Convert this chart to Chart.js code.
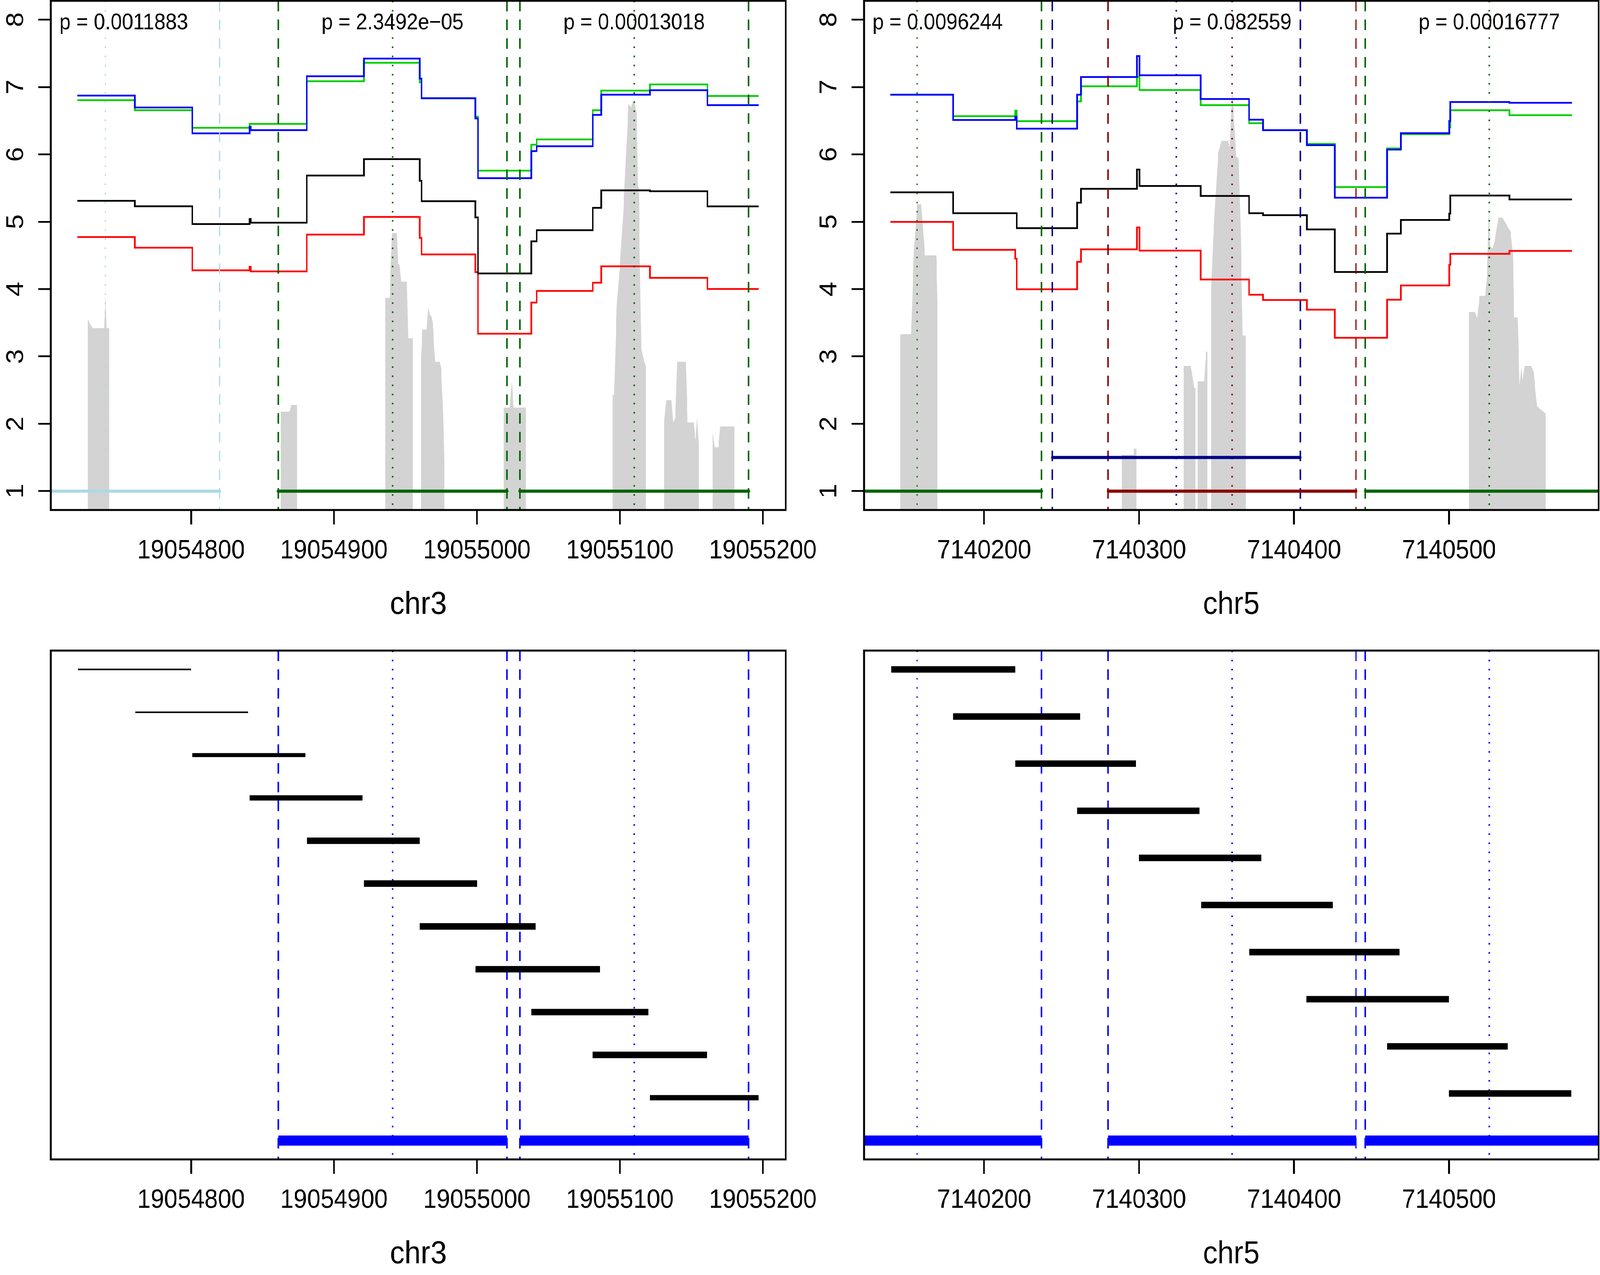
<!DOCTYPE html>
<html>
<head>
<meta charset="utf-8">
<title>chr3 / chr5 window scan</title>
<script src="https://cdn.jsdelivr.net/npm/chart.js@4.4.1/dist/chart.umd.min.js"></script>
<style>
  html, body { margin: 0; padding: 0; background: #fff; overflow: hidden; }
  #page { position: absolute; left: 0; top: 0; width: 4500px; height: 3265px; transform-origin: 0 0; }
  canvas { position: absolute; }
</style>
</head>
<body>
<div id="page">
<canvas id="chr3Top" width="2320" height="1600" style="left:0;top:0"></canvas>
<canvas id="chr5Top" width="2213" height="1600" style="left:2287px;top:0"></canvas>
<canvas id="chr3Bottom" width="2320" height="1665" style="left:0;top:1600px"></canvas>
<canvas id="chr5Bottom" width="2213" height="1665" style="left:2287px;top:1600px"></canvas>
</div>
<script>
// ---------- chr3 ----------
var chr3XTicks = [19054800, 19054900, 19055000, 19055100, 19055200];
var topYTicks = [1, 2, 3, 4, 5, 6, 7, 8];

// step positions and the four score tracks
var chr3Breaks = [19054720.6, 19054760.7, 19054800.9, 19054841, 19054841.7, 19054881, 19054921, 19054960, 19054961.3,
                  19054998.9, 19055000.7, 19055038, 19055041.8, 19055081, 19055087, 19055121, 19055161.2, 19055197.2];
var chr3Blue  = [6.873, 6.696, 6.312, 6.410, 6.359, 7.160, 7.422, 7.125, 6.834, 6.533, 5.646, 6.048, 6.121, 6.585, 6.886, 6.953, 6.730];
var chr3Green = [6.805, 6.655, 6.395, 6.452, 6.452, 7.085, 7.360, 7.070, 6.830, 6.560, 5.758, 6.144, 6.222, 6.655, 6.946, 7.038, 6.867];
var chr3Black = [5.310, 5.229, 4.965, 5.040, 4.986, 5.685, 5.929, 5.608, 5.305, 5.064, 4.232, 4.708, 4.874, 5.206, 5.465, 5.452, 5.227];
var chr3Red   = [4.773, 4.615, 4.278, 4.330, 4.262, 4.809, 5.071, 4.760, 4.514, 4.250, 3.337, 3.800, 3.973, 4.094, 4.338, 4.167, 4.001];

// grey coverage outline [position, height]
var chr3Coverage = [
  [19054727.7, 0], [19054727.7, 3.56], [19054731.0, 3.42], [19054739.2, 3.42], [19054740.1, 3.91], [19054741.0, 3.42], [19054742.9, 3.42], [19054742.9, 0],
  [19054862.8, 0], [19054862.8, 2.18], [19054868.8, 2.18], [19054870.1, 2.28], [19054874.2, 2.28], [19054874.2, 0],
  [19054935.8, 0], [19054935.8, 3.87], [19054938.9, 3.87], [19054940.6, 4.83], [19054944.0, 4.83], [19054944.8, 4.37], [19054945.8, 4.37],
  [19054947.0, 4.11], [19054951.0, 4.11], [19054952.0, 3.27], [19054955.1, 3.27], [19054955.1, 0],
  [19054960.8, 0], [19054960.8, 2.96], [19054961.9, 3.40], [19054964.8, 3.40], [19054965.9, 3.73], [19054967.0, 3.62], [19054968.1, 3.60],
  [19054969.0, 3.51], [19054970.8, 2.92], [19054974.0, 2.92], [19054975.0, 2.82], [19054976.4, 2.16], [19054977.2, 1.45], [19054977.2, 0],
  [19055018.7, 0], [19055018.7, 2.24], [19055022.9, 2.24], [19055024.4, 2.64], [19055025.7, 2.24], [19055034.3, 2.24], [19055034.3, 0],
  [19055095.0, 0], [19055095.0, 2.43], [19055095.9, 2.43], [19055097.8, 3.75], [19055100.2, 4.42], [19055102.3, 5.12], [19055106.0, 6.75],
  [19055107.8, 6.70], [19055109.6, 6.80], [19055111.8, 6.62], [19055112.6, 5.53], [19055113.3, 5.50], [19055114.1, 4.26], [19055115.1, 3.10],
  [19055116.5, 2.97], [19055118.2, 2.85], [19055118.2, 0],
  [19055131.0, 0], [19055131.0, 2.04], [19055132.4, 2.35], [19055136.1, 2.35], [19055137.4, 2.02], [19055138.8, 2.10], [19055140.1, 2.92],
  [19055146.1, 2.92], [19055147.4, 2.02], [19055151.6, 2.02], [19055152.9, 1.75], [19055154.0, 2.09], [19055155.2, 1.65], [19055155.2, 0],
  [19055164.9, 0], [19055164.9, 1.87], [19055166.2, 1.65], [19055168.9, 1.65], [19055170.2, 1.96], [19055180.1, 1.96], [19055180.1, 0]
];

var chr3RegionsLightblue = [[19054690, 19054820]];
var chr3RegionsDarkgreen = [[19054861, 19055021], [19055030, 19055190]];
var chr3PeaksLightblue = [19054740];
var chr3PeaksDarkgreen = [19054941, 19055110];
var chr3PText = ['p = 0.0011883', 'p = 2.3492e\u221205', 'p = 0.00013018'];
var chr3PAt = [19054740, 19054941, 19055110];

var chr3WinStart = [19054721, 19054761, 19054801, 19054841, 19054881, 19054921, 19054960, 19054999, 19055038, 19055081, 19055121];
var chr3WinEnd   = [19054800, 19054840, 19054880, 19054920, 19054960, 19055000, 19055041, 19055086, 19055120, 19055161, 19055197];
var chr3WinLwd   = [4, 4, 10.4, 13.5, 16.6, 16.6, 16.6, 16.6, 16.6, 16.6, 13.5];
var chr3CallRegions = [[19054861, 19055021], [19055030, 19055190]];
var chr3CallPeaks = [19054941, 19055110];

// ---------- chr5 ----------
var chr5XTicks = [7140200, 7140300, 7140400, 7140500];

var chr5Breaks = [7140139.5, 7140180, 7140220, 7140221, 7140260, 7140262.5, 7140298.6, 7140300.3, 7140339.7, 7140371, 7140380,
                  7140408.3, 7140426.3, 7140460, 7140469, 7140500.2, 7140500.8, 7140539, 7140579.4];
var chr5Blue  = [6.885, 6.511, 6.560, 6.381, 6.885, 7.148, 7.459, 7.174, 6.822, 6.515, 6.359, 6.137, 5.356, 6.071, 6.315, 6.496, 6.777, 6.766];
var chr5Green = [6.885, 6.567, 6.650, 6.493, 6.786, 7.011, 7.150, 6.955, 6.730, 6.463, 6.360, 6.155, 5.515, 6.089, 6.300, 6.400, 6.655, 6.581];
var chr5Black = [5.437, 5.126, 5.126, 4.904, 5.282, 5.489, 5.774, 5.530, 5.382, 5.126, 5.097, 4.886, 4.253, 4.823, 5.026, 5.120, 5.389, 5.330];
var chr5Red   = [4.997, 4.582, 4.450, 3.997, 4.404, 4.590, 4.915, 4.571, 4.142, 3.916, 3.838, 3.694, 3.276, 3.842, 4.053, 4.360, 4.523, 4.567];

var chr5Coverage = [
  [7140145.7, 0], [7140145.7, 3.33], [7140152.8, 3.33], [7140154.6, 4.53], [7140156.7, 5.26], [7140159.4, 5.26], [7140161.8, 4.50],
  [7140169.1, 4.50], [7140169.9, 3.82], [7140169.9, 0],
  [7140288.8, 0], [7140288.8, 1.54], [7140296.5, 1.54], [7140296.5, 1.63], [7140298.3, 1.63], [7140298.3, 0],
  [7140328.8, 0], [7140328.8, 2.86], [7140333.4, 2.86], [7140335.5, 2.53], [7140336.4, 2.53], [7140336.4, 0],
  [7140337.7, 0], [7140337.7, 2.63], [7140342.0, 2.63], [7140343.2, 3.07], [7140344.1, 3.07], [7140344.1, 0],
  [7140346.5, 0], [7140346.5, 4.01], [7140347.8, 4.75], [7140351.0, 6.01], [7140353.1, 6.20], [7140357.5, 6.20], [7140358.6, 6.08],
  [7140360.0, 6.97], [7140360.8, 6.71], [7140362.7, 5.97], [7140364.3, 5.94], [7140365.6, 4.84], [7140366.9, 3.31], [7140368.8, 3.31], [7140369.1, 0],
  [7140512.9, 0], [7140512.9, 3.66], [7140516.9, 3.66], [7140518.2, 3.57], [7140519.8, 3.90], [7140523.4, 3.90], [7140524.6, 4.23],
  [7140525.8, 5.23], [7140526.6, 4.64], [7140528.2, 4.60], [7140529.8, 4.75], [7140531.9, 5.06], [7140534.6, 5.06], [7140539.8, 4.85],
  [7140541.4, 4.50], [7140541.9, 3.58], [7140544.3, 3.58], [7140545.6, 2.57], [7140546.7, 2.84], [7140547.5, 2.62], [7140548.8, 2.86],
  [7140553.2, 2.86], [7140554.7, 2.76], [7140556.8, 2.26], [7140562.4, 2.15], [7140562.4, 0]
];

var chr5RegionsDarkgreen = [[7140100, 7140237], [7140446, 7140620]];
var chr5RegionsDarkred = [[7140280, 7140440]];
var chr5RegionsNavy = [[7140244, 7140404]];
var chr5PeaksDarkgreen = [7140156.7, 7140526];
var chr5PeaksDarkred = [7140360];
var chr5PeaksNavy = [7140324];
var chr5PText = ['p = 0.0096244', 'p = 0.082559', 'p = 0.00016777'];
var chr5PAt = [7140156.7, 7140360, 7140526];

var chr5WinStart = [7140140, 7140180, 7140220, 7140260, 7140300, 7140340, 7140371, 7140408, 7140460, 7140500];
var chr5WinEnd   = [7140220, 7140262, 7140298, 7140339, 7140379, 7140425, 7140468, 7140500, 7140538, 7140579];
var chr5CallRegions = [[7140100, 7140237], [7140280, 7140440], [7140446, 7140620]];
var chr5CallPeaks = [7140156.7, 7140360, 7140526];

// ---------- drawing ----------
// the layout is built for 4500 x 3265; squeeze it into whatever the viewport really is
(function fitPage() {
    var sx = (window.innerWidth || 4500) / 4500;
    var sy = (window.innerHeight || 3265) / 3265;
    document.getElementById('page').style.transform = 'scale(' + sx + ',' + sy + ')';
})();

var FONT = '"Liberation Sans", Arial, Helvetica, sans-serif';
Chart.defaults.font.family = FONT;
Chart.defaults.color = '#000';

var DASH = [27, 21];
var DOT = [4, 19.4];

// R style 4% axis extension
function padRange(lo, hi) {
    var d = (hi - lo) * 0.04;
    return [lo - d, hi + d];
}

function lineDs(points, color, width, extra) {
    var ds = {
        data: points,
        borderColor: color,
        borderWidth: width,
        pointRadius: 0,
        fill: false,
        tension: 0,
        clip: 0
    };
    return Object.assign(ds, extra || {});
}

function stepDs(breaks, levels, color, order) {
    var pts = levels.map(function (v, i) { return { x: breaks[i], y: v }; });
    pts.push({ x: breaks[breaks.length - 1], y: levels[levels.length - 1] });
    return lineDs(pts, color, 4.5, { stepped: true, order: order });
}

function vlines(xs, color, dash, yr, order) {
    return xs.map(function (x) {
        return lineDs([{ x: x, y: yr[1] }, { x: x, y: yr[0] }], color, 4, { borderDash: dash, order: order });
    });
}

function segments(list, y, color, width, cap, order) {
    return list.map(function (r) {
        return lineDs([{ x: r[0], y: y }, { x: r[1], y: y }], color, width, { borderCapStyle: cap, order: order });
    });
}

function coverageDs(pairs) {
    return lineDs(pairs.map(function (p) { return { x: p[0], y: p[1] }; }), 'rgba(0,0,0,0)', 0, {
        fill: 'start', backgroundColor: '#D3D3D3', order: 9
    });
}

function xAxis(range, ticks, title, height, titlePad) {
    return {
        type: 'linear', min: range[0], max: range[1], bounds: 'data',
        afterBuildTicks: function (s) { s.ticks = ticks.map(function (v) { return { value: v }; }); },
        afterFit: function (s) { s.height = height; s.paddingLeft = 0; s.paddingRight = 0; },
        ticks: {
            autoSkip: false, maxRotation: 0, minRotation: 0, padding: 27,
            font: { size: 68 }, color: '#000',
            callback: function (v) { return String(v); }
        },
        grid: { drawOnChartArea: false, drawTicks: true, tickLength: 37, color: '#000', lineWidth: 5 },
        border: { display: false },
        title: { display: true, text: title, font: { size: 82 }, color: '#000', padding: { top: 0, bottom: titlePad } }
    };
}

function yAxis(range, ticks) {
    var ax = {
        type: 'linear', min: range[0], max: range[1], bounds: 'data',
        afterFit: function (s) { s.width = 143; s.paddingTop = 0; s.paddingBottom = 0; },
        ticks: { display: false },
        border: { display: false }
    };
    if (ticks) {
        ax.afterBuildTicks = function (s) { s.ticks = ticks.map(function (v) { return { value: v }; }); };
        ax.grid = { drawOnChartArea: false, drawTicks: true, tickLength: 35, color: '#000', lineWidth: 4.5 };
    } else {
        ax.grid = { display: false };
    }
    return ax;
}

// box, rotated y labels and p-value texts
function decor(yLabels, texts, textAt, textY) {
    return {
        id: 'decor',
        afterDraw: function (chart) {
            var ctx = chart.ctx, a = chart.chartArea, x = chart.scales.x, y = chart.scales.y;
            ctx.save();
            ctx.fillStyle = '#000';
            if (yLabels) {
                ctx.font = '68px ' + FONT;
                ctx.textAlign = 'center';
                ctx.textBaseline = 'alphabetic';
                yLabels.forEach(function (v) {
                    ctx.save();
                    ctx.translate(a.left - 78, y.getPixelForValue(v));
                    ctx.rotate(-Math.PI / 2);
                    ctx.fillText(String(v), 0, 0);
                    ctx.restore();
                });
            }
            if (texts) {
                ctx.font = '57px ' + FONT;
                ctx.textAlign = 'left';
                ctx.textBaseline = 'middle';
                texts.forEach(function (t, i) {
                    var w = ctx.measureText(t).width;
                    var left = x.getPixelForValue(textAt[i]) - w / 2;
                    left = Math.max(a.left + 24, Math.min(left, a.right - 24 - w));
                    ctx.fillText(t, left, y.getPixelForValue(textY));
                });
            }
            ctx.lineWidth = 5;
            ctx.strokeStyle = '#000';
            ctx.strokeRect(a.left, a.top, a.right - a.left, a.bottom - a.top);
            ctx.restore();
        }
    };
}

function makeChart(id, datasets, scales, padding, plugin) {
    return new Chart(document.getElementById(id), {
        type: 'line',
        data: { datasets: datasets },
        options: {
            responsive: false,
            animation: false,
            devicePixelRatio: 1,
            events: [],
            layout: { padding: padding, autoPadding: false },
            elements: { point: { radius: 0 } },
            plugins: { legend: { display: false }, tooltip: { enabled: false }, title: { display: false } },
            scales: scales
        },
        plugins: [plugin]
    });
}

var topY = padRange(1, 8);

// chr3 scores
(function () {
    var xr = padRange(chr3WinStart[0], chr3WinEnd[chr3WinEnd.length - 1]);
    var ds = [].concat(
        segments(chr3RegionsLightblue, 1, '#ADD8E6', 8, 'round', 0),
        segments(chr3RegionsDarkgreen, 1, '#006400', 8, 'round', 0),
        vlines([].concat.apply([], chr3RegionsLightblue), '#ADD8E6', DASH, topY, 1),
        vlines([].concat.apply([], chr3RegionsDarkgreen), '#006400', DASH, topY, 1),
        vlines(chr3PeaksLightblue, '#ADD8E6', DOT, topY, 1),
        vlines(chr3PeaksDarkgreen, '#006400', DOT, topY, 1),
        [stepDs(chr3Breaks, chr3Blue, '#0000FF', 2),
         stepDs(chr3Breaks, chr3Green, '#00CD00', 3),
         stepDs(chr3Breaks, chr3Black, '#000000', 4),
         stepDs(chr3Breaks, chr3Red, '#FF0000', 5),
         coverageDs(chr3Coverage)]
    );
    makeChart('chr3Top', ds,
        { x: xAxis(xr, chr3XTicks, 'chr3', 294, 1), y: yAxis(topY, topYTicks) },
        { left: 0, right: 110, top: 2, bottom: 0 },
        decor(topYTicks, chr3PText, chr3PAt, 7.95));
})();

// chr5 scores
(function () {
    var xr = padRange(chr5WinStart[0], chr5WinEnd[chr5WinEnd.length - 1]);
    var ds = [].concat(
        segments(chr5RegionsDarkgreen, 1, '#006400', 8, 'round', 0),
        segments(chr5RegionsDarkred, 1, '#8B0000', 8, 'round', 0),
        segments(chr5RegionsNavy, 1.5, '#00008B', 8, 'round', 0),
        vlines([].concat.apply([], chr5RegionsDarkgreen), '#006400', DASH, topY, 1),
        vlines([].concat.apply([], chr5RegionsDarkred), '#8B0000', DASH, topY, 1),
        vlines([].concat.apply([], chr5RegionsNavy), '#00008B', DASH, topY, 1),
        vlines(chr5PeaksDarkgreen, '#006400', DOT, topY, 1),
        vlines(chr5PeaksDarkred, '#8B0000', DOT, topY, 1),
        vlines(chr5PeaksNavy, '#00008B', DOT, topY, 1),
        [stepDs(chr5Breaks, chr5Blue, '#0000FF', 2),
         stepDs(chr5Breaks, chr5Green, '#00CD00', 3),
         stepDs(chr5Breaks, chr5Black, '#000000', 4),
         stepDs(chr5Breaks, chr5Red, '#FF0000', 5),
         coverageDs(chr5Coverage)]
    );
    makeChart('chr5Top', ds,
        { x: xAxis(xr, chr5XTicks, 'chr5', 294, 1), y: yAxis(topY, topYTicks) },
        { left: 0, right: 4, top: 2, bottom: 0 },
        decor(topYTicks, chr5PText, chr5PAt, 7.95));
})();

// window panels
function windowPanel(id, starts, ends, lwd, regions, peaks, ticks, title, padRight) {
    var n = starts.length;
    var xr = padRange(starts[0], ends[n - 1]);
    var yr = padRange(0, n);
    var wins = starts.map(function (s, i) {
        return lineDs([{ x: s, y: n - i }, { x: ends[i], y: n - i }], '#000000', lwd[i], { borderCapStyle: 'butt', order: 1 });
    });
    var ds = [].concat(
        segments(regions, 0, '#0000FF', 26, 'butt', 0),
        wins,
        vlines([].concat.apply([], regions), '#0000FF', DASH, yr, 2),
        vlines(peaks, '#0000FF', DOT, yr, 2)
    );
    makeChart(id, ds,
        { x: xAxis(xr, ticks, title, 296, 3), y: yAxis(yr, null) },
        { left: 0, right: padRight, top: 66, bottom: 0 },
        decor(null, null, null, null));
}

windowPanel('chr3Bottom', chr3WinStart, chr3WinEnd, chr3WinLwd, chr3CallRegions, chr3CallPeaks, chr3XTicks, 'chr3', 110);
windowPanel('chr5Bottom', chr5WinStart, chr5WinEnd, chr5WinStart.map(function () { return 16.6; }),
            chr5CallRegions, chr5CallPeaks, chr5XTicks, 'chr5', 4);
</script>
</body>
</html>
